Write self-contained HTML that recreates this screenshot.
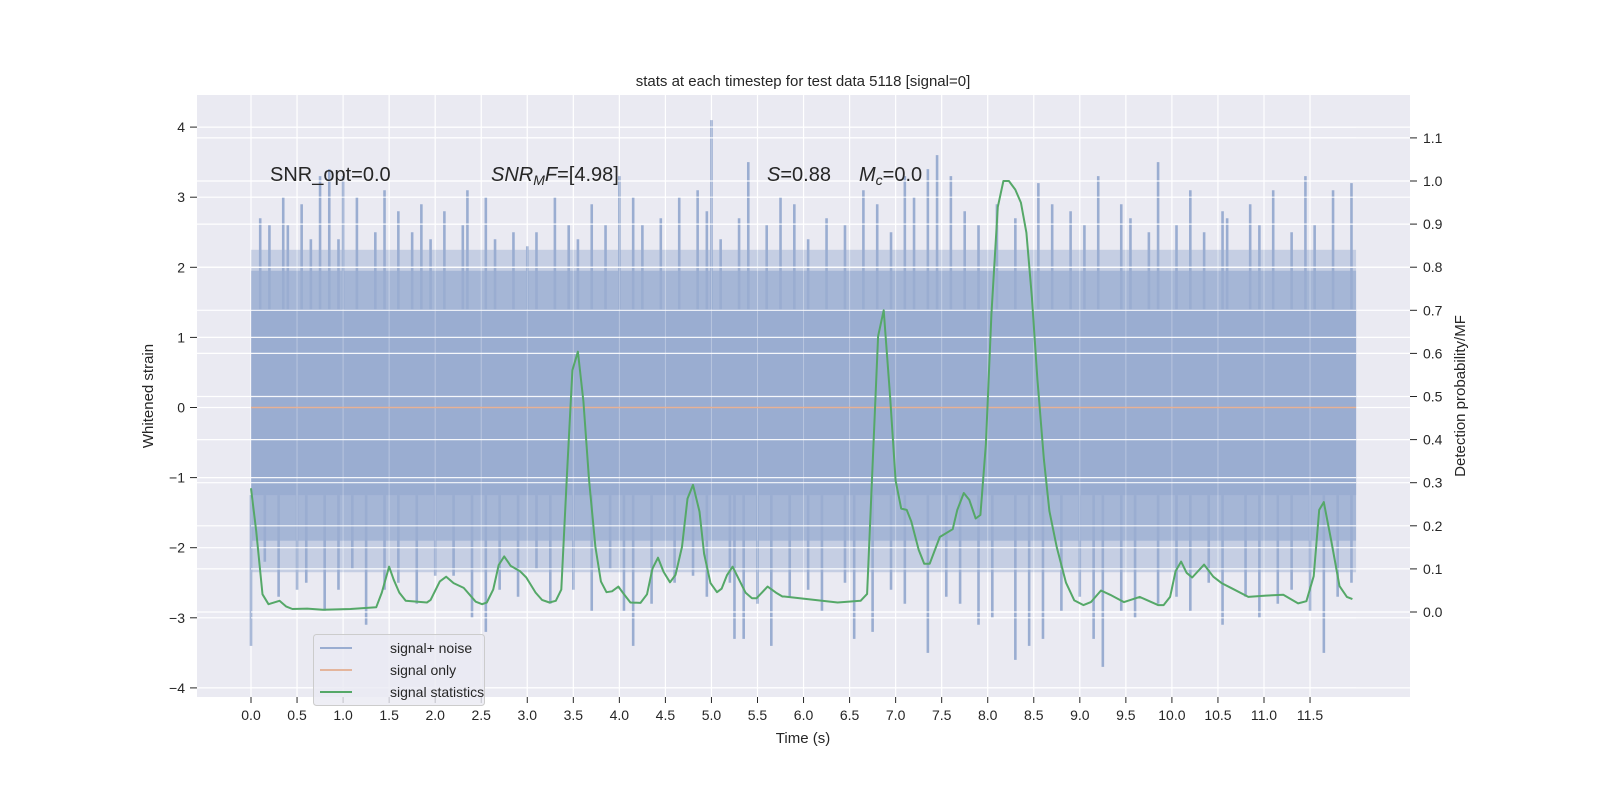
<!DOCTYPE html>
<html><head><meta charset="utf-8"><style>
body{margin:0;background:#fff;}
svg text{font-family:"Liberation Sans","DejaVu Sans",sans-serif;fill:#262626;}
</style></head><body>
<svg width="1600" height="800" viewBox="0 0 1600 800">
<rect x="197" y="95" width="1213" height="602" fill="#eaeaf2"/>
<g id="grid"></g>
<g id="noise"></g>
<g id="marks"></g>
<g id="axes"></g>
<text x="803" y="86" font-size="15" text-anchor="middle">stats at each timestep for test data 5118 [signal=0]</text>
<text x="803" y="743" font-size="15" text-anchor="middle">Time (s)</text>
<text transform="translate(153,396) rotate(-90)" font-size="15" text-anchor="middle">Whitened strain</text>
<text transform="translate(1465,396) rotate(-90)" font-size="15" text-anchor="middle">Detection probability/MF</text>
<text x="270" y="181" font-size="20">SNR_opt=0.0</text>
<text x="491" y="181" font-size="20"><tspan font-style="italic">SNR</tspan><tspan font-style="italic" font-size="14" dy="4">M</tspan><tspan font-style="italic" dy="-4">F</tspan>=[4.98]</text>
<text x="767" y="181" font-size="20"><tspan font-style="italic">S</tspan>=0.88</text>
<text x="859" y="181" font-size="20"><tspan font-style="italic">M</tspan><tspan font-style="italic" font-size="14" dy="4">c</tspan><tspan dy="-4">=0.0</tspan></text>
<g>
<rect x="313.5" y="634.5" width="171" height="71" rx="3" fill="#eaeaf2" fill-opacity="0.8" stroke="#cccccc"/>
<line x1="320" y1="648" x2="352" y2="648" stroke="#9aadd1" stroke-width="2"/>
<text x="390" y="653" font-size="14">signal+ noise</text>
<line x1="320" y1="670" x2="352" y2="670" stroke="#e4b59c" stroke-width="2"/>
<text x="390" y="675" font-size="14">signal only</text>
<line x1="320" y1="692" x2="352" y2="692" stroke="#55a868" stroke-width="2"/>
<text x="390" y="697" font-size="14">signal statistics</text>
</g>
</svg>
<script>
const xTicks=[0,0.5,1,1.5,2,2.5,3,3.5,4,4.5,5,5.5,6,6.5,7,7.5,8,8.5,9,9.5,10,10.5,11,11.5];
const yTicks=[-4,-3,-2,-1,0,1,2,3,4];
const y2Ticks=[0,0.1,0.2,0.3,0.4,0.5,0.6,0.7,0.8,0.9,1.0,1.1];
const noiseDuration=[0,12];
const coreBand=[-1.25,1.4];
const midBand=[-1.9,1.95];
const outerBand=[-2.35,2.25];
const upT=[0.1,0.2,0.35,0.4,0.55,0.65,0.75,0.85,0.95,1.0,1.15,1.35,1.45,1.6,1.75,1.85,1.95,2.1,2.3,2.35,2.55,2.65,2.85,3.0,3.1,3.3,3.45,3.55,3.7,3.85,4.0,4.15,4.25,4.45,4.65,4.85,4.95,5.0,5.1,5.3,5.4,5.6,5.75,5.9,6.05,6.25,6.45,6.65,6.8,6.95,7.1,7.2,7.35,7.45,7.6,7.75,7.9,8.1,8.3,8.55,8.7,8.9,9.05,9.2,9.45,9.55,9.75,9.85,10.05,10.2,10.35,10.55,10.6,10.85,10.95,11.1,11.3,11.45,11.55,11.75,11.95];
const upV=[2.7,2.6,3.0,2.6,2.9,2.4,3.3,3.4,2.4,3.3,3.0,2.5,3.1,2.8,2.5,2.9,2.4,2.8,2.6,3.1,3.0,2.4,2.5,2.3,2.5,3.0,2.6,2.4,2.9,2.6,3.3,3.0,2.6,2.7,3.0,3.1,2.8,4.1,2.4,2.7,3.5,2.6,3.0,2.9,2.4,2.7,2.6,3.1,2.9,2.5,3.3,3.0,3.4,3.6,3.3,2.8,2.6,2.9,2.7,3.2,2.9,2.8,2.6,3.3,2.9,2.7,2.5,3.5,2.6,3.1,2.5,2.8,2.7,2.9,2.6,3.1,2.5,3.3,2.6,3.1,3.2];
const loT=[0.0,0.15,0.3,0.5,0.6,0.8,0.95,1.1,1.25,1.45,1.6,1.8,2.0,2.2,2.4,2.55,2.7,2.9,3.1,3.25,3.5,3.7,3.9,4.05,4.15,4.35,4.6,4.8,4.95,5.2,5.25,5.35,5.5,5.65,5.85,6.05,6.2,6.45,6.55,6.75,6.95,7.1,7.35,7.55,7.7,7.9,8.05,8.3,8.45,8.6,8.8,9.0,9.15,9.25,9.45,9.6,9.85,10.05,10.2,10.4,10.55,10.8,10.95,11.15,11.3,11.5,11.65,11.8,11.95];
const loV=[-3.4,-2.2,-2.7,-2.6,-2.5,-2.9,-2.6,-2.3,-3.1,-2.6,-2.5,-2.8,-2.4,-2.4,-3.0,-3.2,-2.6,-2.7,-2.3,-2.8,-2.6,-2.9,-2.3,-2.9,-3.4,-2.8,-2.5,-2.4,-2.7,-2.5,-3.3,-3.3,-2.8,-3.4,-2.7,-2.6,-2.9,-2.5,-3.3,-3.2,-2.6,-2.8,-3.5,-2.7,-2.8,-3.1,-3.0,-3.6,-3.4,-3.3,-2.9,-2.7,-3.3,-3.7,-2.9,-3.0,-2.8,-2.7,-2.9,-2.5,-3.1,-2.7,-3.0,-2.8,-2.6,-2.9,-3.5,-2.7,-2.5];
const statT=[0,0.057,0.125,0.19,0.31,0.38,0.45,0.61,0.78,1.08,1.36,1.42,1.5,1.55,1.61,1.68,1.91,1.95,2.05,2.12,2.2,2.31,2.44,2.51,2.56,2.63,2.69,2.75,2.82,2.92,2.99,3.09,3.16,3.24,3.31,3.37,3.43,3.49,3.55,3.61,3.67,3.74,3.8,3.86,3.92,3.99,4.05,4.12,4.23,4.3,4.36,4.42,4.48,4.55,4.61,4.68,4.74,4.8,4.87,4.92,4.99,5.06,5.11,5.17,5.23,5.3,5.37,5.44,5.49,5.61,5.7,5.77,5.79,6.37,6.62,6.69,6.81,6.87,6.94,7.0,7.06,7.12,7.17,7.25,7.31,7.37,7.48,7.62,7.67,7.74,7.8,7.87,7.92,7.98,8.04,8.11,8.17,8.23,8.3,8.36,8.42,8.48,8.54,8.61,8.67,8.75,8.85,8.94,9.04,9.12,9.23,9.33,9.48,9.65,9.85,9.91,9.98,10.04,10.1,10.16,10.22,10.35,10.45,10.54,10.65,10.83,11.02,11.21,11.37,11.46,11.54,11.6,11.65,11.73,11.82,11.9,11.96];
const statV=[0.287,0.188,0.041,0.018,0.026,0.013,0.007,0.008,0.005,0.007,0.011,0.045,0.105,0.075,0.045,0.026,0.022,0.028,0.071,0.082,0.067,0.056,0.024,0.018,0.022,0.052,0.109,0.129,0.107,0.095,0.08,0.045,0.028,0.022,0.026,0.052,0.316,0.561,0.604,0.489,0.308,0.151,0.071,0.046,0.048,0.059,0.041,0.022,0.021,0.041,0.101,0.126,0.093,0.069,0.086,0.151,0.263,0.295,0.233,0.135,0.067,0.046,0.054,0.086,0.105,0.075,0.045,0.032,0.032,0.059,0.045,0.036,0.036,0.022,0.026,0.042,0.64,0.70,0.50,0.305,0.24,0.237,0.21,0.144,0.112,0.112,0.174,0.192,0.237,0.276,0.26,0.217,0.225,0.39,0.69,0.94,1.0,1.0,0.98,0.95,0.88,0.73,0.54,0.354,0.234,0.15,0.068,0.027,0.016,0.023,0.05,0.04,0.023,0.035,0.016,0.016,0.035,0.095,0.117,0.091,0.08,0.11,0.082,0.067,0.055,0.035,0.038,0.04,0.02,0.025,0.083,0.237,0.255,0.166,0.06,0.035,0.03];
const signalOnly=[0,0];

const NS='http://www.w3.org/2000/svg';
const xS=t=>251+t*92.09;
const yS=v=>407.5-v*70.1;
const y2S=p=>612-p*431;
function mk(tag,attrs,parent){const e=document.createElementNS(NS,tag);for(const k in attrs)e.setAttribute(k,attrs[k]);parent.appendChild(e);return e;}
const grid=document.getElementById('grid'),noise=document.getElementById('noise'),marks=document.getElementById('marks'),axes=document.getElementById('axes');

xTicks.forEach(t=>{
  const l=mk('line',{x1:xS(t),x2:xS(t),y1:95,y2:697,stroke:'#fff','stroke-width':1.2},grid);
  
  
  const tk=mk('line',{x1:xS(t),x2:xS(t),y1:697,y2:703,stroke:'#262626','stroke-width':1},axes);
  
  
  const tx=mk('text',{x:xS(t),y:720,'font-size':14,'text-anchor':'middle'},axes);
  tx.textContent=t.toFixed(1);
  
  
});
yTicks.forEach(v=>{
  const l=mk('line',{x1:197,x2:1410,y1:yS(v),y2:yS(v),stroke:'#fff','stroke-width':1.2},grid);
  
  
  const tk=mk('line',{x1:190,x2:197,y1:yS(v),y2:yS(v),stroke:'#262626','stroke-width':1},axes);
  
  
  const tx=mk('text',{x:185,y:yS(v)+5,'font-size':14,'text-anchor':'end'},axes);
  tx.textContent=(v<0?'\u2212':'')+Math.abs(v);
  
  
});
y2Ticks.forEach(p=>{
  const l=mk('line',{x1:197,x2:1410,y1:y2S(p),y2:y2S(p),stroke:'#fff','stroke-width':1.2},grid);
  
  
  const tk=mk('line',{x1:1410,x2:1417,y1:y2S(p),y2:y2S(p),stroke:'#262626','stroke-width':1},axes);
  
  
  const tx=mk('text',{x:1423,y:y2S(p)+5,'font-size':14},axes);
  tx.textContent=p.toFixed(1);
  
  
});

const x0=xS(noiseDuration[0]),x1=xS(noiseDuration[1]);
const ob=mk('rect',{x:x0,y:yS(outerBand[1]),width:x1-x0,height:yS(outerBand[0])-yS(outerBand[1]),fill:'#9aadd1','fill-opacity':0.45},noise);


const mb=mk('rect',{x:x0,y:yS(midBand[1]),width:x1-x0,height:yS(midBand[0])-yS(midBand[1]),fill:'#9aadd1','fill-opacity':0.75},noise);


upT.forEach((t,i)=>{
  const l=mk('line',{x1:xS(t),x2:xS(t),y1:yS(coreBand[1]),y2:yS(upV[i]),stroke:'#9aadd1','stroke-width':2.6},noise);
  
  
});
loT.forEach((t,i)=>{
  const l=mk('line',{x1:xS(t),x2:xS(t),y1:yS(coreBand[0]),y2:yS(loV[i]),stroke:'#9aadd1','stroke-width':2.6},noise);
  
  
});
const cb=mk('rect',{x:x0,y:yS(coreBand[1]),width:x1-x0,height:yS(coreBand[0])-yS(coreBand[1]),fill:'#9aadd1'},noise);


yTicks.forEach(v=>{
  const l=mk('line',{x1:x0,x2:x1,y1:yS(v),y2:yS(v),stroke:'#fff','stroke-width':1.2,'stroke-opacity':0.9},noise);
  
  
});
y2Ticks.forEach(p=>{
  const l=mk('line',{x1:x0,x2:x1,y1:y2S(p),y2:y2S(p),stroke:'#fff','stroke-width':1.2,'stroke-opacity':0.9},noise);
  
  
});
xTicks.forEach(t=>{
  const l=mk('line',{x1:xS(t),x2:xS(t),y1:95,y2:697,stroke:'#fff','stroke-width':1,'stroke-opacity':0.3},noise);
  
  
});

const sig=mk('line',{x1:x0,x2:x1,y1:yS(signalOnly[0]),y2:yS(signalOnly[1]),stroke:'#dd8452','stroke-opacity':0.6,'stroke-width':1.5},marks);


const pts=statT.map((t,i)=>xS(t).toFixed(1)+','+y2S(statV[i]).toFixed(1)).join(' ');
const st=mk('polyline',{points:pts,fill:'none',stroke:'#55a868','stroke-width':2,'stroke-linejoin':'round'},marks);


</script>
</body></html>
